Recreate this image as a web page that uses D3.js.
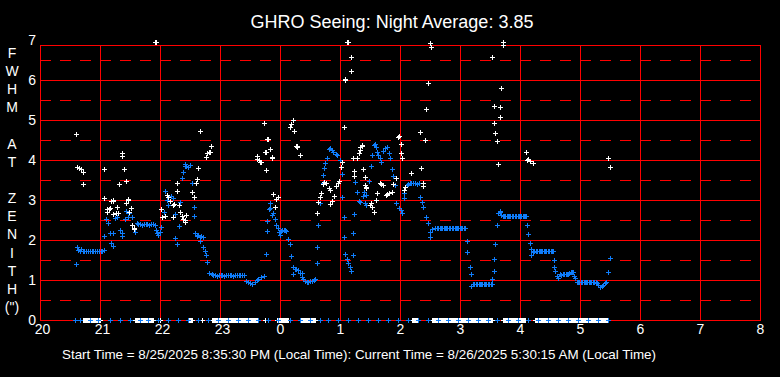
<!DOCTYPE html>
<html>
<head>
<meta charset="utf-8">
<script src="https://cdn.jsdelivr.net/npm/d3@7"></script>
<style>
  html, body { margin: 0; padding: 0; background: #000; }
  svg { display: block; }
  text { font-family: "Liberation Sans", Arial, sans-serif; fill: #fff; }
</style>
</head>
<body>
<div id="chart"></div>
<script>
// hours since midnight of the start day (24+ = next morning)
const hourTicks = [20, 21, 22, 23, 24, 25, 26, 27, 28, 29, 30, 31, 32];
const fwhmTicks = [0, 1, 2, 3, 4, 5, 6, 7];
const halfTicks = [0.5, 1.5, 2.5, 3.5, 4.5, 5.5, 6.5];
const yTitle = ['F', 'W', 'H', 'M', '', 'A', 'T', '', 'Z', 'E', 'N', 'I', 'T', 'H', '(")'];

const title = 'GHRO Seeing: Night Average: 3.85';
const footer = 'Start Time = 8/25/2025 8:35:30 PM (Local Time): Current Time = 8/26/2025 5:30:15 AM (Local Time)';

// blue series [hour, fwhm]
const blueSeries = [
  [20.60,1.40],[20.61,1.82],[20.63,1.76],[20.66,1.72],[20.69,1.77],[20.71,1.73],[20.74,1.73],[20.77,1.73],[20.80,1.73],[20.83,1.72],
  [20.86,1.73],[20.89,1.73],[20.92,1.72],[20.95,1.73],[20.98,1.73],[21.01,1.73],[21.04,1.73],[21.06,1.76],
  [21.07,2.09],[21.10,2.52],[21.13,2.43],[21.16,2.17],[21.18,1.93],[21.21,1.86],[21.22,2.17],[21.25,2.54],[21.29,2.57],[21.33,2.25],
  [21.36,2.09],[21.37,2.18],[21.42,2.52],[21.43,2.73],[21.46,2.57],[21.49,2.67],[21.54,2.58],[21.56,2.31],[21.59,2.20],
  [21.61,2.42],[21.64,2.39],[21.67,2.39],[21.70,2.38],[21.73,2.39],[21.76,2.39],[21.79,2.39],[21.82,2.38],[21.85,2.39],[21.88,2.39],[21.91,2.38],
  [21.93,2.25],[21.95,2.17],[21.97,2.13],[22.00,2.21],[22.02,2.32],[22.07,2.71],[22.09,3.23],[22.11,3.00],[22.14,2.88],[22.19,3.10],
  [22.21,3.04],[22.25,2.65],[22.25,2.04],[22.28,1.90],[22.31,2.35],[22.33,2.95],[22.36,3.54],[22.38,3.71],[22.41,3.86],[22.42,3.89],
  [22.44,3.84],[22.47,3.83],[22.50,3.88],[22.53,3.43],[22.56,2.82],[22.57,2.59],[22.58,2.17],[22.61,2.10],[22.64,2.12],[22.67,2.08],
  [22.67,1.98],[22.69,2.10],[22.72,2.08],[22.72,1.83],[22.75,1.73],[22.76,1.63],[22.79,1.44],[22.82,1.18],[22.86,1.14],
  [22.89,1.12],[22.92,1.12],[22.95,1.11],[22.98,1.12],[23.01,1.12],[23.04,1.12],[23.07,1.11],[23.10,1.12],[23.13,1.12],[23.16,1.12],
  [23.19,1.12],[23.22,1.11],[23.25,1.12],[23.28,1.12],[23.31,1.12],[23.34,1.12],[23.37,1.12],[23.40,1.12],
  [23.44,0.98],[23.47,0.94],[23.50,0.92],[23.54,0.89],[23.58,0.94],[23.61,1.00],[23.64,1.02],[23.69,1.08],[23.73,1.10],
  [23.76,1.65],[23.78,2.22],[23.79,2.47],[23.82,2.77],[23.83,2.92],[23.84,2.80],[23.87,2.63],[23.89,2.67],[23.92,2.53],[23.94,2.38],
  [23.96,2.29],[23.98,2.21],[24.00,2.13],[24.01,2.23],[24.04,2.25],[24.06,2.25],[24.08,2.24],[24.10,2.23],[24.14,2.02],[24.17,1.89],
  [24.18,1.60],[24.22,1.32],[24.22,1.14],[24.25,1.27],[24.27,1.27],[24.30,1.25],[24.33,1.18],[24.36,1.17],[24.36,1.08],[24.39,1.02],
  [24.42,0.98],[24.45,0.96],[24.47,0.96],[24.50,0.97],[24.53,0.98],[24.56,1.00],[24.58,1.02],
  [24.61,1.42],[24.62,1.83],[24.64,2.38],[24.67,2.92],[24.69,3.17],[24.71,3.42],[24.71,3.63],[24.73,3.79],[24.75,3.92],[24.78,4.04],
  [24.81,4.27],[24.83,4.30],[24.84,4.29],[24.86,4.25],[24.89,4.21],[24.93,4.15],[24.95,4.12],[25.00,4.00],[25.03,3.65],[25.04,3.08],
  [25.06,2.57],[25.07,2.07],[25.09,1.65],[25.11,1.52],[25.13,1.43],[25.16,1.32],[25.18,1.23],[25.21,1.62],[25.22,2.17],[25.24,2.65],
  [25.25,3.46],[25.28,3.21],[25.31,2.98],[25.34,2.96],[25.38,3.10],[25.40,3.21],[25.42,2.92],[25.43,3.13],[25.44,2.88],[25.49,3.48],
  [25.51,3.85],[25.53,4.13],[25.56,4.38],[25.58,4.40],[25.60,4.33],[25.61,4.21],[25.64,4.12],[25.67,4.06],[25.69,3.96],[25.72,4.23],
  [25.75,4.29],[25.78,4.33],[25.81,4.17],[25.83,4.04],[25.86,3.77],[25.89,3.60],[25.92,3.38],[25.94,2.92],[25.99,2.79],[26.02,2.75],
  [26.04,2.67],[26.06,3.06],[26.07,3.18],[26.09,3.33],[26.11,3.38],[26.14,3.40],[26.17,3.42],[26.19,3.43],[26.22,3.42],[26.25,3.42],
  [26.28,3.41],[26.31,3.42],[26.33,3.08],[26.36,2.96],[26.39,2.83],[26.43,2.58],[26.46,2.43],[26.50,2.21],[26.50,2.08],[26.54,2.27],
  [26.58,2.29],[26.61,2.30],
  [26.64,2.31],[26.66,2.29],[26.68,2.29],[26.70,2.29],[26.73,2.30],[26.75,2.29],[26.77,2.29],[26.79,2.29],[26.82,2.29],[26.84,2.30],
  [26.86,2.29],[26.88,2.29],[26.91,2.29],[26.93,2.29],[26.95,2.29],[26.97,2.30],[27.00,2.29],[27.02,2.29],[27.04,2.29],[27.06,2.29],[27.08,2.29],
  [27.11,1.98],[27.12,1.69],[27.16,1.33],[27.18,1.14],[27.19,0.85],
  [27.22,0.90],[27.24,0.90],[27.26,0.90],[27.28,0.91],[27.31,0.90],[27.33,0.90],[27.35,0.90],[27.37,0.90],[27.40,0.91],[27.42,0.90],
  [27.44,0.90],[27.46,0.90],[27.49,0.90],[27.51,0.90],[27.53,0.90],
  [27.54,1.02],[27.56,1.23],[27.57,1.52],[27.58,1.89],[27.61,2.37],[27.64,2.68],[27.66,2.72],[27.67,2.71],
  [27.69,2.62],[27.71,2.61],[27.73,2.60],[27.75,2.61],[27.78,2.61],[27.80,2.60],[27.82,2.61],[27.84,2.61],[27.87,2.61],[27.89,2.60],
  [27.91,2.61],[27.93,2.61],[27.96,2.61],[27.98,2.60],[28.00,2.61],[28.02,2.61],[28.05,2.61],[28.07,2.60],[28.09,2.61],[28.10,2.61],
  [28.11,2.37],[28.14,2.14],[28.16,1.92],[28.18,1.78],[28.19,1.63],
  [28.22,1.71],[28.24,1.73],[28.26,1.72],[28.28,1.72],[28.31,1.73],[28.33,1.72],[28.35,1.72],[28.37,1.73],[28.40,1.72],[28.42,1.72],
  [28.44,1.73],[28.46,1.72],[28.49,1.73],[28.51,1.72],[28.53,1.72],[28.55,1.72],
  [28.56,1.50],[28.57,1.32],[28.59,1.23],[28.62,1.10],[28.64,1.04],
  [28.67,1.14],[28.69,1.13],[28.71,1.14],[28.73,1.14],[28.76,1.15],[28.78,1.16],[28.80,1.16],[28.82,1.18],[28.85,1.20],[28.87,1.21],
  [28.88,1.21],[28.90,1.10],[28.92,1.04],
  [28.95,0.96],[28.97,0.94],[28.99,0.94],[29.01,0.94],[29.03,0.94],[29.06,0.94],[29.08,0.94],[29.10,0.94],[29.12,0.94],[29.15,0.94],
  [29.17,0.94],[29.19,0.94],[29.21,0.94],[29.24,0.94],[29.26,0.94],[29.28,0.93],[29.30,0.88],[29.33,0.83],[29.36,0.85],[29.39,0.88],
  [29.42,0.92],[29.44,0.96],[29.47,1.21],[29.50,1.54]
];

// white series [hour, fwhm]
const whiteSeries = [
  [20.60,4.65],[20.62,3.82],[20.65,3.80],[20.68,3.77],[20.72,3.71],[20.71,3.40],
  [21.06,3.77],[21.07,3.04],[21.11,2.71],[21.12,2.78],[21.15,2.77],[21.17,2.80],[21.19,2.97],[21.21,2.97],[21.22,3.00],[21.22,2.65],
  [21.26,2.68],[21.29,2.82],[21.30,2.67],[21.32,3.40],[21.36,4.17],[21.37,4.10],[21.40,3.77],[21.43,3.48],[21.43,2.93],[21.46,3.00],
  [21.47,3.02],[21.48,2.71],[21.52,2.79],[21.54,2.38],[21.56,2.28],[21.57,2.31],
  [21.92,6.95],[21.94,6.95],
  [22.02,2.77],[22.04,2.58],[22.09,2.60],[22.11,3.13],[22.14,3.08],[22.17,2.98],[22.21,2.88],[22.22,2.58],[22.24,2.90],[22.28,3.43],
  [22.28,3.23],[22.31,2.88],[22.34,2.71],[22.36,2.60],[22.39,2.53],[22.41,2.49],[22.42,2.46],[22.44,2.63],[22.54,3.21],[22.57,3.08],
  [22.60,3.42],[22.62,3.53],[22.64,3.81],[22.67,4.73],[22.76,4.07],[22.79,4.17],[22.81,4.20],[22.83,4.21],[22.85,4.35],
  [23.61,4.02],[23.62,4.10],[23.65,4.00],[23.67,3.96],[23.68,3.96],[23.74,4.92],[23.75,4.21],[23.76,4.19],[23.77,3.75],[23.79,4.52],
  [23.80,4.52],[23.83,4.28],[23.86,4.06],[23.87,4.08],[23.89,3.15],[23.92,2.83],[23.93,3.02],[23.96,3.08],
  [24.17,4.82],[24.18,4.89],[24.21,5.00],[24.23,4.73],[24.27,4.36],[24.28,4.34],[24.29,4.33],[24.33,4.13],
  [24.61,2.67],[24.64,2.96],[24.67,3.08],[24.69,3.17],[24.72,3.40],[24.74,3.44],[24.77,3.42],[24.81,3.29],[24.83,3.25],[24.84,2.90],
  [24.87,2.98],[24.90,3.10],[24.93,3.35],[24.96,3.42],[24.99,3.48],[25.02,3.83],[25.03,3.96],[25.06,4.83],[25.08,6.02],[25.09,6.00],
  [25.11,6.94],[25.13,6.94],[25.18,6.58],[25.19,6.23],[25.21,4.04],[25.23,3.73],[25.24,3.61],
  [25.29,4.04],[25.32,4.17],[25.33,4.25],[25.34,4.32],[25.36,4.37],[25.37,4.35],[25.39,3.77],[25.41,3.58],[25.42,3.38],[25.43,3.33],
  [25.44,3.29],[25.50,2.88],[25.52,2.93],[25.54,2.83],[25.56,2.71],[25.60,3.00],[25.62,3.17],[25.67,3.43],[25.69,3.40],[25.71,3.38],
  [25.77,3.13],[25.78,3.15],[25.79,3.14],[25.82,3.18],[25.86,3.21],[25.89,3.40],[25.93,3.54],[25.96,4.57],[25.99,4.60],[26.01,4.40],
  [26.02,4.17],[26.04,4.04],[26.06,3.25],[26.08,3.33],[26.19,3.67],[26.34,4.69],[26.35,3.79],[26.38,3.43],[26.39,3.35],[26.42,4.50],
  [26.43,5.27],[26.46,5.92],[26.50,6.93],[26.52,6.82],
  [27.54,6.57],[27.56,5.34],[27.57,4.92],[27.59,4.67],[27.61,4.47],[27.64,3.89],[27.66,5.07],[27.67,5.32],[27.69,5.79],[27.71,6.88],
  [27.72,6.94],[28.10,4.19],[28.12,4.00],[28.14,4.02],[28.16,3.98],[28.21,3.92],
  [29.47,4.04],[29.50,3.82]
];

// samples with a zero reading, drawn on the baseline (minutes after 20:00)
const blueZeroMinutes = [
  35, 40, 50, 58, 70, 80, 90, 100, 108, 118, 128, 138, 148, 158, 168, 178, 188, 198, 208, 218,
  228, 238, 250, 260, 270, 280, 288, 298, 308, 318, 328, 338, 348, 358, 368, 378, 388, 398, 408, 418,
  428, 438, 448, 457, 468, 478, 488, 498, 508, 518, 528, 538, 548, 558, 568
];
const whiteZeroMinutes = [
  43, 44, 45, 46, 47, 48, 49, 50, 51, 52, 53, 54, 55, 56, 57, 58, 59, 60,
  95, 96, 97, 98, 99, 100, 101, 102, 103, 104, 105, 106, 107, 108, 109, 110, 111, 112, 113,
  120, 148, 149, 150, 151, 152, 162,
  172, 173, 174, 175, 176, 177, 178, 179, 180, 181, 182, 183, 184, 185, 186, 187, 188, 189, 190, 191, 192, 193, 194,
  195, 196, 197, 198, 199, 200, 201, 202, 203, 204, 205, 206, 207, 208, 209, 210, 211, 212, 213, 214, 215, 216, 217,
  225,
  237, 238, 239, 240, 241, 242, 243, 244, 245, 246, 247, 248,
  260, 261, 262, 263, 264, 265, 266, 267, 268, 269, 270, 271, 272, 273, 274, 275,
  372, 373, 374, 375, 376, 377, 378,
  392, 393, 394, 395, 396, 397, 398, 399, 400, 401, 402, 403, 404, 405, 406, 407, 408, 409, 410, 411, 412, 413, 414, 415,
  416, 417, 418, 419, 420, 421, 422, 423, 424, 425, 426, 427, 428, 429, 430, 431, 432, 433, 434, 435, 436, 437, 438, 439,
  440, 441, 442, 443, 444, 445, 446, 447, 448, 449, 450, 451, 452,
  463, 464, 465, 466, 467, 468, 469, 470, 471, 472, 473, 474, 475, 476, 477, 478, 479, 480, 481, 482, 483, 484, 485,
  495, 496, 497, 498, 499, 500, 501, 502, 503, 504, 505, 506, 507, 508, 509, 510, 511, 512, 513, 514, 515, 516, 517, 518,
  519, 520, 521, 522, 523, 524, 525, 526, 527, 528, 529, 530, 531, 532, 533, 534, 535, 536, 537, 538, 539, 540, 541, 542,
  543, 544, 545, 546, 547, 548, 549, 550, 551, 552, 553, 554, 555, 556, 557, 558, 559, 560, 561, 562, 563, 564, 565, 566, 567
];

const BLUE = '#0f7dfa', WHITE = '#ffffff', RED = '#ff0000';
const W = 780, H = 377;
const frameTop = 45;

const svg = d3.select('#chart').append('svg').attr('width', W).attr('height', H);
svg.append('rect').attr('width', W).attr('height', H).attr('fill', '#000');

const x = d3.scaleLinear().domain([20, 32]).range([40, 760]);
const y = d3.scaleLinear().domain([0, 7]).range([320, 40]);

// grid
const grid = svg.append('g').attr('shape-rendering', 'crispEdges').attr('stroke', RED).attr('stroke-width', 1);
grid.selectAll('line.half')
  .data(halfTicks)
  .enter()
  .append('line')
  .attr('x1', x(20)).attr('x2', x(32) - 8)
  .attr('y1', d => y(d) + 0.5).attr('y2', d => y(d) + 0.5)
  .attr('stroke-dasharray', '11,9');
grid.selectAll('line.h')
  .data(fwhmTicks.filter(d => d > 0 && d < 7))
  .enter()
  .append('line')
  .attr('x1', x(20)).attr('x2', x(32))
  .attr('y1', d => y(d) + 0.5).attr('y2', d => y(d) + 0.5);
grid.selectAll('line.v')
  .data(hourTicks.slice(1, -1))
  .enter()
  .append('line')
  .attr('x1', d => x(d) + 0.5).attr('x2', d => x(d) + 0.5)
  .attr('y1', frameTop).attr('y2', y(0));
grid.append('rect')
  .attr('x', x(20) + 0.5).attr('y', frameTop + 0.5)
  .attr('width', x(32) - x(20)).attr('height', y(0) - frameTop)
  .attr('fill', 'none');

// axes labels
svg.append('g')
  .attr('transform', `translate(0,${y(0)})`)
  .call(d3.axisBottom(x).tickValues(hourTicks).tickFormat(d => d % 24).tickSize(0).tickPadding(4))
  .call(g => g.select('.domain').remove())
  .selectAll('text')
  .attr('font-size', 14)
  .attr('fill', '#fff')
  .attr('dx', d => (d % 24 >= 10 ? 2 : 0));

svg.append('g')
  .attr('transform', `translate(36,0)`)
  .call(d3.axisLeft(y).tickValues(fwhmTicks).tickFormat(d3.format('d')).tickSize(0).tickPadding(0))
  .call(g => g.select('.domain').remove())
  .selectAll('text')
  .attr('font-size', 14)
  .attr('fill', '#fff');

svg.selectAll('text.ylab')
  .data(yTitle)
  .enter()
  .append('text')
  .attr('x', 12)
  .attr('y', (d, i) => 53 + i * 18.15)
  .attr('dy', '0.35em')
  .attr('text-anchor', 'middle')
  .attr('font-size', 14)
  .text(d => d);

svg.append('text')
  .attr('x', 392).attr('y', 28)
  .attr('text-anchor', 'middle')
  .attr('font-size', 18)
  .text(title);

svg.append('text')
  .attr('x', 62).attr('y', 359)
  .attr('font-size', 13.4)
  .text(footer);

// markers
const plus = 'M-2,0.5H3M0.5,-2V3';
function drawPluses(pts, color) {
  svg.append('g')
    .attr('shape-rendering', 'crispEdges')
    .selectAll('path')
    .data(pts)
    .enter()
    .append('path')
    .attr('d', plus)
    .attr('transform', d => `translate(${Math.round(x(d[0]))},${Math.round(y(d[1]))})`)
    .attr('stroke', color)
    .attr('stroke-width', 1)
    .attr('fill', 'none');
}

const minToHour = m => 20 + m / 60;
drawPluses(blueSeries, BLUE);
drawPluses(whiteSeries, WHITE);
drawPluses(whiteZeroMinutes.map(m => [minToHour(m), 0]), WHITE);
drawPluses(blueZeroMinutes.map(m => [minToHour(m), 0]), BLUE);
</script>
</body>
</html>
